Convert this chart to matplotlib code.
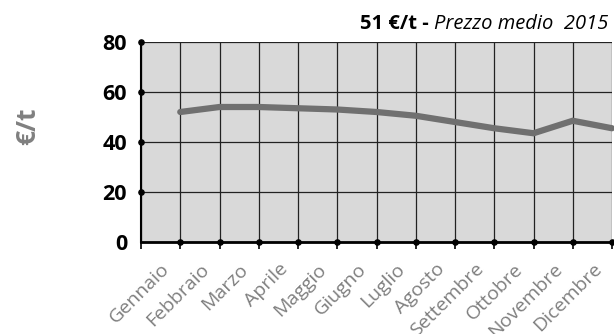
import matplotlib
matplotlib.use('Agg')
import matplotlib.pyplot as plt
import numpy as np

plt.rcParams['font.family'] = ['Open Sans', 'DejaVu Sans']

mesi = ['Gennaio', 'Febbraio', 'Marzo', 'Aprile', 'Maggio', 'Giugno',
        'Luglio', 'Agosto', 'Settembre', 'Ottobre', 'Novembre', 'Dicembre']
prezzi = [52, 54, 54, 53.5, 53, 52, 50.5, 48, 45.5, 43.5, 48.5, 45.5]
y_ticks = [0, 20, 40, 60, 80]
prezzo_medio = 51
anno = 2015

fig = plt.figure(figsize=(6.14, 3.34), dpi=100)
ax = fig.add_axes([141/614, 92/334, 471/614, 200/334])
ax.set_facecolor('#d9d9d9')

n = len(mesi)
x_linea = np.arange(1, n + 1)
ax.plot(x_linea, prezzi, color='#707070', lw=4.5, solid_capstyle='round',
        solid_joinstyle='miter', zorder=3, clip_on=False)

ax.set_xlim(0, n)
ax.set_ylim(0, 80)

# griglia sulle tacche principali, etichette dei mesi sulle secondarie
ax.set_xticks(np.arange(0, n + 1))
ax.set_xticklabels([])
ax.set_xticks(np.arange(n) + 0.5, minor=True)
ax.set_xticklabels(mesi, minor=True, rotation=45, ha='right',
                   rotation_mode='anchor', color='#7f7f7f', fontsize=14)
ax.tick_params(axis='x', which='major', direction='out', length=5, width=1.2, color='black')
ax.tick_params(axis='x', which='minor', length=0, pad=13)

ax.set_yticks(y_ticks)
ax.set_yticklabels([str(v) for v in y_ticks], fontsize=15.5, fontweight='bold')
ax.tick_params(axis='y', which='major', length=0, pad=10)
ax.set_yticks([0], minor=True)
ax.tick_params(axis='y', which='minor', direction='out', length=6, width=1.2, color='black')

ax.grid(True, which='major', color='#222222', lw=0.9)
ax.set_axisbelow(True)
for s in ['top', 'right']:
    ax.spines[s].set_visible(False)
ax.spines['left'].set_linewidth(1.5)
ax.spines['bottom'].set_linewidth(2)

# pallini sulle tacche degli assi
ax.scatter(np.zeros(len(y_ticks) - 1), y_ticks[1:], s=14, color='black', zorder=5, clip_on=False)
ax.scatter(x_linea, np.zeros(n), s=14, color='black', zorder=5, clip_on=False)

fig.text(28/614, (334 - 126)/334, '€/t', rotation=90, ha='center', va='center',
         fontsize=19, fontweight='bold', color='#808080')

t1 = fig.text(360/614, (334 - 29)/334, f'{prezzo_medio} €/t - ', fontsize=14.5,
              fontweight='bold', ha='left', va='baseline')
fig.canvas.draw()
bb = t1.get_window_extent()
fig.text(bb.x1/614, (334 - 29)/334, f'Prezzo medio  {anno}', fontsize=14.5,
         style='italic', ha='left', va='baseline')

fig.savefig('out.png', dpi=100)
